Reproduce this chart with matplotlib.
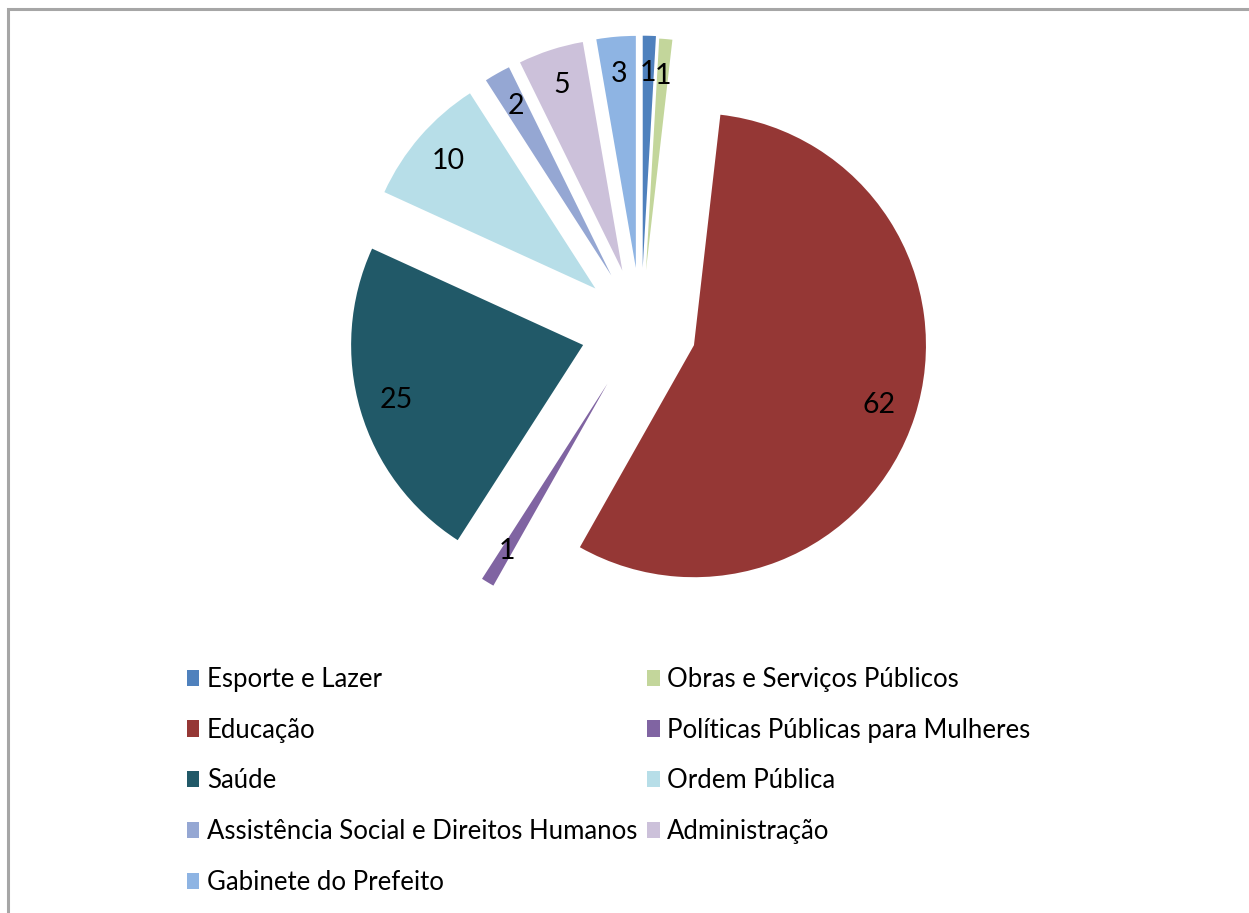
import matplotlib.pyplot as plt

plt.rcParams["font.family"] = ["Lato", "DejaVu Sans"]

categorias = [
    "Esporte e Lazer",
    "Obras e Serviços Públicos",
    "Educação",
    "Políticas Públicas para Mulheres",
    "Saúde",
    "Ordem Pública",
    "Assistência Social e Direitos Humanos",
    "Administração",
    "Gabinete do Prefeito",
]
valores = [1, 1, 62, 1, 25, 10, 2, 5, 3]
cores = ["#4F81BD", "#C3D69B", "#953735", "#8064A2", "#215968",
         "#B7DEE8", "#95A7D3", "#CCC1DA", "#8EB4E3"]
destaque = [0.26, 0.25, 0.24, 0.28, 0.26, 0.26, 0.26, 0.26, 0.26]

W, H = 1249, 913
R = 232  # raio em pixels
fig = plt.figure(figsize=(W / 100, H / 100), dpi=100)
ax = fig.add_axes([0, 0, 1, 1])

total = sum(valores)
# no matplotlib o explode fica em unidades de dados, por isso multiplica pelo raio
fatias, _, rotulos = ax.pie(
    valores,
    colors=cores,
    explode=[d * R for d in destaque],
    startangle=90,
    counterclock=False,
    center=(641, H - 328),
    radius=R,
    autopct=lambda p: f"{round(p * total / 100)}",
    pctdistance=0.84,
    wedgeprops=dict(linewidth=0),
    frame=True,
)
for r in rotulos:
    r.set_fontsize(20.5)
    r.set_color("black")
ax.set_xlim(0, W)
ax.set_ylim(0, H)
ax.set_aspect("equal")
ax.axis("off")

# moldura cinza (so topo e esquerda aparecem)
ax.plot([8, 8, W], [0, H - 8.5, H - 8.5], color="#A6A6A6", lw=2.2,
        clip_on=False, solid_joinstyle="miter")

# legenda em duas colunas, preenchida por linha
ordem = [0, 2, 4, 6, 8, 1, 3, 5, 7]
leg = ax.legend(
    [fatias[i] for i in ordem],
    [categorias[i] for i in ordem],
    ncol=2,
    loc="upper left",
    bbox_to_anchor=(187, H - 667),
    bbox_transform=ax.transData,
    frameon=False,
    fontsize=18.5,
    handlelength=0.47,
    handleheight=0.6,
    handletextpad=0.3,
    columnspacing=0.4,
    labelspacing=1.0,
    borderpad=0,
    borderaxespad=0,
)

fig.savefig("out.png", dpi=100)
